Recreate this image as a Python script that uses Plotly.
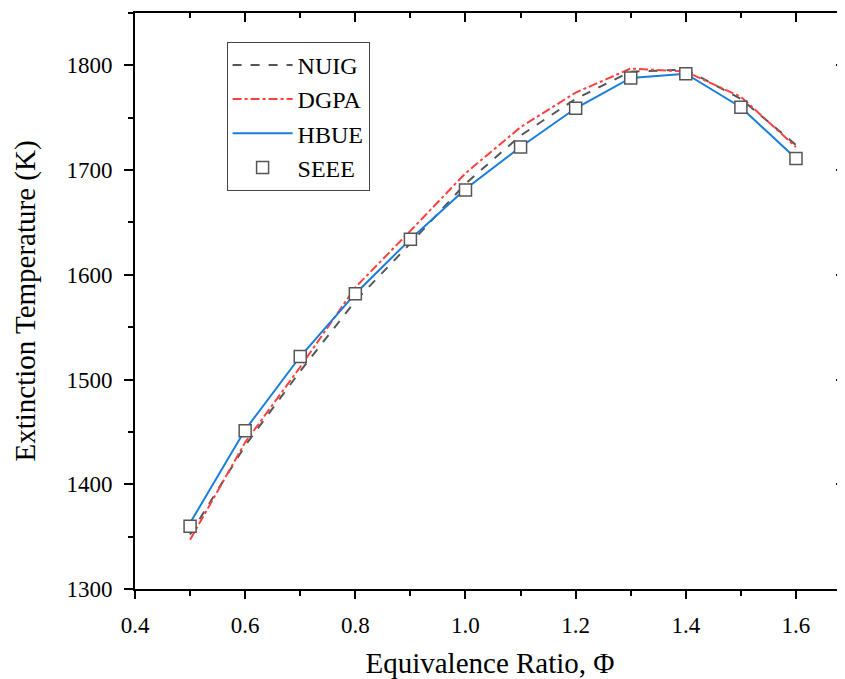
import plotly.graph_objects as go

phi = [0.5, 0.6, 0.7, 0.8, 0.9, 1.0, 1.1, 1.2, 1.3, 1.4, 1.5, 1.6]
nuig = [1352, 1437, 1508, 1575, 1630, 1687, 1733, 1768, 1794, 1796, 1768, 1724]
dgpa = [1347, 1440, 1512, 1588, 1642, 1697, 1741, 1774, 1797, 1794, 1770, 1722]
hbue = [1363, 1452, 1522, 1582, 1634, 1682, 1722, 1759, 1788, 1792, 1760, 1711]
seee = [1360, 1451, 1522, 1582, 1634, 1681, 1722, 1759, 1788, 1792, 1760, 1711]

x_ticks = [0.4, 0.6, 0.8, 1.0, 1.2, 1.4, 1.6]
y_ticks = [1300, 1400, 1500, 1600, 1700, 1800]
xr = [0.4, 1.689]
yr = [1300, 1850]

font = "Liberation Serif"

fig = go.Figure()
fig.add_trace(go.Scatter(x=phi, y=nuig, mode="lines", name="NUIG",
                         line=dict(color="#555555", width=2, dash="dash")))
fig.add_trace(go.Scatter(x=phi, y=dgpa, mode="lines", name="DGPA",
                         line=dict(color="#ff4040", width=2, dash="dashdot")))
fig.add_trace(go.Scatter(x=phi, y=hbue, mode="lines", name="HBUE",
                         line=dict(color="#1a7ddb", width=2)))
fig.add_trace(go.Scatter(x=phi, y=seee, mode="markers", name="SEEE",
                         marker=dict(symbol="square", size=12, color="white",
                                     line=dict(color="#555555", width=1.5))))
# dummy trace for mirrored axes
fig.add_trace(go.Scatter(x=[xr[0]], y=[yr[0]], xaxis="x2", yaxis="y2", mode="markers",
                         marker=dict(opacity=0), showlegend=False, hoverinfo="skip"))

# page body has an 8px default margin; figure sized to fill the remaining window
fig.update_layout(
    width=837, height=671,
    margin=dict(l=127, r=0, t=5, b=90, autoexpand=False),
    plot_bgcolor="white", paper_bgcolor="white",
    font=dict(family=font, color="black", size=23),
    showlegend=True,
    legend=dict(x=0.129, y=0.95, xanchor="left", yanchor="top",
                bgcolor="white", bordercolor="#444444", borderwidth=1,
                font=dict(family=font, size=24, color="black"),
                tracegroupgap=0, itemwidth=60),
    xaxis=dict(range=xr, tickvals=x_ticks, ticktext=[f"{v:.1f}" for v in x_ticks],
               automargin=False,
               showgrid=False, zeroline=False, showline=True, linecolor="black",
               linewidth=2, ticks="outside", ticklen=8, tickwidth=2, tickcolor="black",
               ticklabelstandoff=6,
               minor=dict(dtick=0.1, tick0=0.4, ticks="outside", ticklen=5, tickwidth=2,
                          tickcolor="black", showgrid=False),
               title=dict(text="Equivalence Ratio, Φ", font=dict(family=font, size=29), standoff=20),
               tickfont=dict(family=font, size=23)),
    yaxis=dict(range=yr, tickvals=y_ticks, automargin=False,
               showgrid=False, zeroline=False, showline=True, linecolor="black",
               linewidth=2, ticks="outside", ticklen=9, tickwidth=2, tickcolor="black",
               ticklabelstandoff=7,
               minor=dict(dtick=50, tick0=1300, ticks="outside", ticklen=5, tickwidth=2,
                          tickcolor="black", showgrid=False),
               title=dict(text="Extinction Temperature (K)", font=dict(family=font, size=29), standoff=22),
               tickfont=dict(family=font, size=23)),
    xaxis2=dict(range=xr, overlaying="x", side="top", tickvals=x_ticks, automargin=False,
                showticklabels=False, showgrid=False, zeroline=False, showline=True,
                linecolor="black", linewidth=2, ticks="inside", ticklen=9, tickwidth=2,
                tickcolor="black",
                minor=dict(dtick=0.1, tick0=0.4, ticks="inside", ticklen=5, tickwidth=2,
                           tickcolor="black", showgrid=False)),
    yaxis2=dict(range=yr, overlaying="y", side="right", tickvals=y_ticks, automargin=False,
                showticklabels=False, showgrid=False, zeroline=False, showline=False,
                ticks="inside", ticklen=9, tickwidth=2, tickcolor="black",
                minor=dict(dtick=50, tick0=1300, ticks="inside", ticklen=5, tickwidth=2,
                           tickcolor="black", showgrid=False)),
)

fig.write_html("out.html")
